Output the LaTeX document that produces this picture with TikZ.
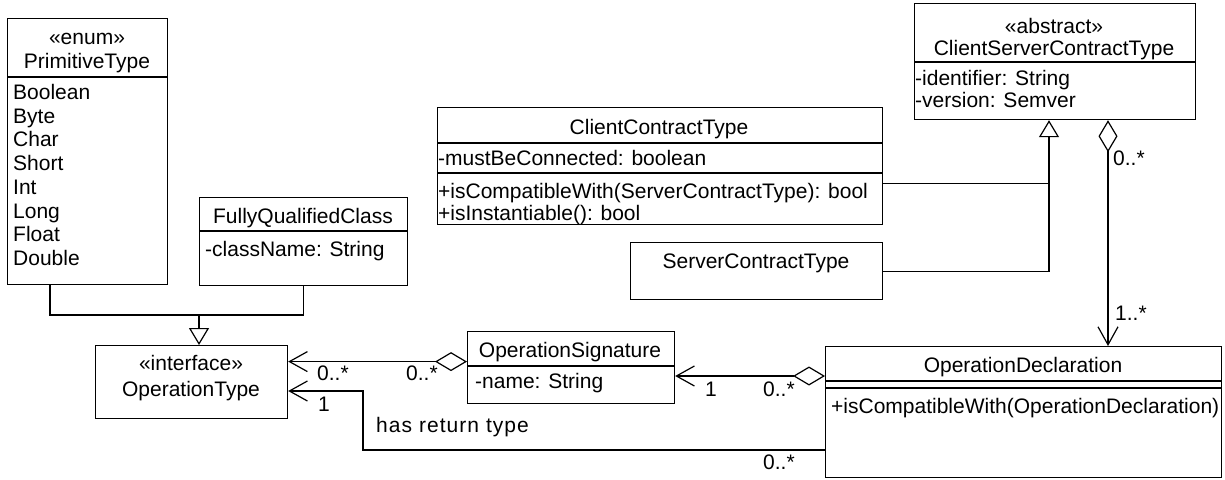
\documentclass[tikz,border=0pt]{standalone}
\usepackage{fontspec}
\setmainfont{Liberation Sans}
\usetikzlibrary{arrows.meta}
\newcommand\umlfont{\fontsize{21}{24}\selectfont}
\begin{document}
\begin{tikzpicture}[x=1pt,y=-1pt,
  box/.style={draw, line width=1.2pt, inner sep=0pt, anchor=north west},
  sep/.style={line width=1.2pt},
  ctr/.style={inner sep=0pt, anchor=base, font=\umlfont},
  lft/.style={inner sep=0pt, anchor=base west, font=\umlfont},
  assoc/.style={line width=1.2pt, -{Straight Barb[length=18pt,width=20pt]}},
  agg/.style={line width=1.2pt, {Diamond[open,length=32pt,width=19pt]}-{Straight Barb[length=18pt,width=20pt]}},
  gen/.style={line width=1.2pt, -{Triangle[open,length=17pt,width=20pt]}},
  plain/.style={line width=1.2pt}
]
\useasboundingbox (0,0) rectangle (1225,479);

% ---------- PrimitiveType
\node[box, minimum width=160pt, minimum height=266pt] (prim) at (7,18) {};
\draw[sep] ([yshift=-59pt]prim.north west) -- ([yshift=-59pt]prim.north east);
\node[ctr] (primS) at (87,44) {«enum»};
\node[ctr] (primN) at (87,68) {PrimitiveType};
\node[lft] (p1) at (13,99) {Boolean};
\node[lft] (p2) at (13,123) {Byte};
\node[lft] (p3) at (13,146) {Char};
\node[lft] (p4) at (13,170) {Short};
\node[lft] (p5) at (13,194) {Int};
\node[lft] (p6) at (13,218) {Long};
\node[lft] (p7) at (13,241) {Float};
\node[lft] (p8) at (13,265) {Double};

% ---------- FullyQualifiedClass
\node[box, minimum width=208pt, minimum height=88pt] (fqc) at (199,197) {};
\draw[sep] ([yshift=-34pt]fqc.north west) -- ([yshift=-34pt]fqc.north east);
\node[ctr] (fqcN) at (303,223) {FullyQualifiedClass};
\node[lft] (fqcA) at (205,256) {-className: String};

% ---------- OperationType
\node[box, minimum width=192pt, minimum height=73pt] (optype) at (95,345) {};
\node[ctr] (otS) at (191,370) {«interface»};
\node[ctr] (otN) at (191,396) {OperationType};

% ---------- OperationSignature
\node[box, minimum width=207pt, minimum height=72pt] (opsig) at (467,331) {};
\draw[sep] ([yshift=-35pt]opsig.north west) -- ([yshift=-35pt]opsig.north east);
\node[ctr] (osN) at (570,357) {OperationSignature};
\node[lft] (osA) at (475,388) {-name: String};

% ---------- OperationDeclaration
\node[box, minimum width=396pt, minimum height=131pt] (opdecl) at (825,346) {};
\draw[sep] ([yshift=-35pt]opdecl.north west) -- ([yshift=-35pt]opdecl.north east);
\draw[sep] ([yshift=-42pt]opdecl.north west) -- ([yshift=-42pt]opdecl.north east);
\node[ctr] (odN) at (1023,372) {OperationDeclaration};
\node[lft] (odM) at (831,413) {+isCompatibleWith(OperationDeclaration)};

% ---------- ClientContractType
\node[box, minimum width=445pt, minimum height=117pt] (client) at (437,107) {};
\draw[sep] ([yshift=-36pt]client.north west) -- ([yshift=-36pt]client.north east);
\draw[sep] ([yshift=-66pt]client.north west) -- ([yshift=-66pt]client.north east);
\node[ctr] (ccN) at (659,134) {ClientContractType};
\node[lft] (ccA) at (438,165) {-mustBeConnected: boolean};
\node[lft] (ccM1) at (438,198) {+isCompatibleWith(ServerContractType): bool};
\node[lft] (ccM2) at (438,220) {+isInstantiable(): bool};

% ---------- ServerContractType
\node[box, minimum width=252pt, minimum height=57pt] (server) at (630,242) {};
\node[ctr] (scN) at (756,268) {ServerContractType};

% ---------- ClientServerContractType
\node[box, minimum width=281pt, minimum height=116pt] (csct) at (914,3) {};
\draw[sep] ([yshift=-59pt]csct.north west) -- ([yshift=-59pt]csct.north east);
\node[ctr] (csS) at (1054,33) {«abstract»};
\node[ctr] (csN) at (1054,55) {ClientServerContractType};
\node[lft] (csA1) at (915,85) {-identifier: String};
\node[lft] (csA2) at (915,107) {-version: Semver};

% ---------- generalisations to OperationType
\coordinate (genA) at (199,315);
\draw[plain] ([xshift=43pt]prim.south west) |- (genA);
\draw[plain] (fqc.south) |- (genA);
\draw[gen] (genA) -- (genA |- optype.north);

% ---------- generalisations to ClientServerContractType
\coordinate (genTop) at ([xshift=135pt]csct.south west);
\coordinate (ccE) at ([yshift=-17pt]client.east);
\draw[plain] (ccE) -- (ccE -| genTop);
\draw[gen] (server.east) -| (genTop);

% ---------- aggregation ClientServerContractType -> OperationDeclaration
\coordinate (aggTop) at ([xshift=194pt]csct.south west);
\draw[agg] (aggTop) -- (aggTop |- opdecl.north);
\node[lft] (m1) at (1113,165) {0..*};
\node[lft] (m2) at (1115,320) {1..*};

% ---------- aggregation OperationSignature -> OperationType
\coordinate (sigW) at ([yshift=6pt]opsig.west);
\draw[agg] (sigW) -- (sigW -| optype.east);
\node[lft] (m3) at (317,380) {0..*};
\node[lft] (m4) at (406,380) {0..*};

% ---------- aggregation OperationDeclaration -> OperationSignature
\coordinate (declW) at ([yshift=-30pt]opdecl.north west);
\draw[agg] (declW) -- (declW -| opsig.east);
\node[lft] (m5) at (705,396) {1};
\node[lft] (m6) at (763,396) {0..*};

% ---------- has return type
\coordinate (declR) at ([yshift=-104pt]opdecl.north west);
\coordinate (rtBend) at (363,391);
\draw[assoc] (declR) -| (rtBend) -- (rtBend -| optype.east);
\node[lft] (m7) at (318,411) {1};
\node[lft] (m8) at (763,469) {0..*};
\node[lft, font=\umlfont\addfontfeatures{LetterSpace=5}] (rtl) at (376,432) {has return type};
\end{tikzpicture}
\end{document}
